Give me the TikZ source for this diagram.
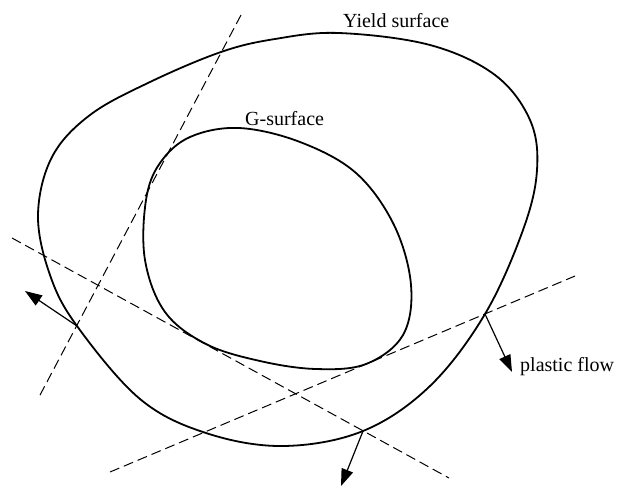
\documentclass[tikz,border=0pt]{standalone}
\usepackage{fontspec}
\setmainfont{Liberation Serif}
\usetikzlibrary{arrows.meta}
\tikzset{
  surf/.style={line width=1.8pt, line join=round},
  tangent/.style={line width=1pt, dash pattern=on 10pt off 5pt},
  flow/.style={line width=1.2pt, -{Triangle[length=17pt,width=12pt]}},
  lbl/.style={font=\fontsize{20}{24}\selectfont, inner sep=0pt}
}
\begin{document}
\begin{tikzpicture}[x=1pt, y=-1pt]
\useasboundingbox (0,0) rectangle (618,488);
% points where the flow is taken
\coordinate (p1) at (77,326);
\coordinate (p2) at (363,431);
\coordinate (p3) at (485,314);
% yield surface
\draw[surf] plot[smooth cycle, tension=0.6] coordinates {
  (339,33) (430,45) (495,75) (530,120) (537,170) (523,230) (p3)
  (430,386) (p2) (283,446) (206,433) (140,399) (p1) (50,275)
  (38,215) (52,157) (90,115) (150,82) (221,52) (275,39)};
% G-surface
\draw[surf] plot[smooth cycle, tension=0.6] coordinates {
  (239,128) (300,142) (356,173) (394,225) (411,285) (403,335)
  (366,364) (316,369) (260,361) (206,344) (165,312) (145,260)
  (146,200) (160,163) (190,137)};
% tangent lines
\coordinate (t1a) at (241,15);  \coordinate (t1b) at (39,397);
\coordinate (t2a) at (12,238);  \coordinate (t2b) at (449,478);
\coordinate (t3a) at (110,472); \coordinate (t3b) at (575,276);
\draw[tangent] (t1a) -- (t1b);
\draw[tangent] (t2a) -- (t2b);
\draw[tangent] (t3a) -- (t3b);
% flow directions
\coordinate (f1) at (25,291);
\coordinate (f2) at (341,486);
\coordinate (f3) at (512,372);
\draw[flow] (p1) -- (f1);
\draw[flow] (p2) -- (f2);
\draw[flow] (p3) -- (f3);
\node[lbl, anchor=base west] (yield) at (343,27) {Yield surface};
\node[lbl, anchor=base west] (gsurf) at (245,125) {G-surface};
\node[lbl, anchor=base west] (plastic) at (520,371) {plastic flow};
\end{tikzpicture}
\end{document}
